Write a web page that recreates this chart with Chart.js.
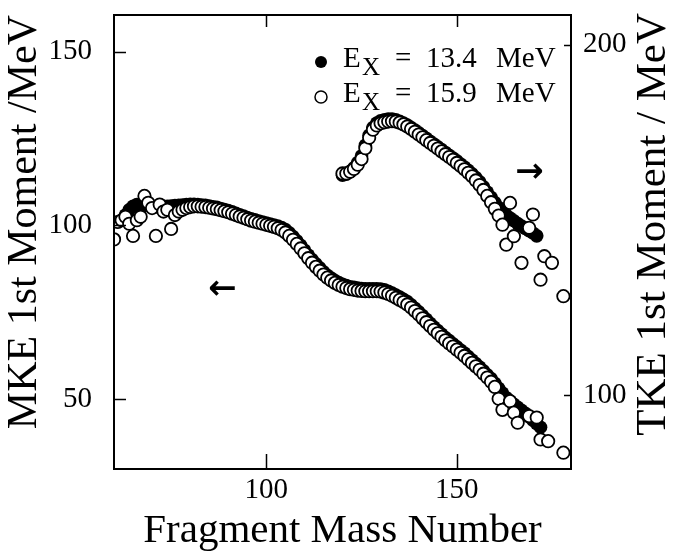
<!DOCTYPE html>
<html>
<head>
<meta charset="utf-8">
<script src="https://cdn.jsdelivr.net/npm/chart.js@4.4.1/dist/chart.umd.min.js"></script>
<style>
  html, body { margin: 0; padding: 0; background: #fff; }
  #wrap { width: 675px; height: 552px; }
</style>
</head>
<body>
<div id="wrap"><canvas id="chart"></canvas></div>
<script>
// Datos (número de masa del fragmento -> energía)
const massMke159 = [60, 61, 62, 63, 64, 65, 66, 67, 68, 69, 70, 71, 72, 73, 74, 75, 76, 77, 78, 79,
  80, 81, 82, 83, 84, 85, 86, 87, 88, 89, 90, 91, 92, 93, 94, 95, 96, 97, 98, 99,
  100, 101, 102, 103, 104, 105, 106, 107, 108, 109, 110, 111, 112, 113, 114, 115, 116, 117, 118, 119,
  120, 121, 122, 123, 124, 125, 126, 127, 128, 129, 130, 131, 132, 133, 134, 135, 136, 137, 138, 139,
  140, 141, 142, 143, 144, 145, 146, 147, 148, 149, 150, 151, 152, 153, 154, 155, 156, 157, 158, 159,
  160, 161, 162, 164, 165, 166, 169, 171, 172, 174, 178];
const mke159 = [96, 101, 101.5, 102.5, 100.5, 97, 101.5, 102.5, 108.5, 106.5, 105, 97, 106, 104, 104.5, 99, 103, 104, 104.5, 105,
  105.3, 105.5, 105.5, 105.4, 105.3, 105.1, 104.9, 104.7, 104.4, 104.1, 103.8, 103.4, 103, 102.6, 102.2, 101.8, 101.4, 101.1, 100.8, 100.5,
  100.2, 99.9, 99.6, 99.2, 98.7, 98, 97, 95.9, 94.7, 93.4, 92, 90.6, 89.3, 88.1, 87, 85.9, 85, 84.2, 83.5, 82.9,
  82.4, 82, 81.7, 81.5, 81.3, 81.2, 81.1, 81.1, 81.1, 81.1, 81, 80.7, 80.3, 79.8, 79.2, 78.6, 78, 77.3, 76.4, 75.4,
  74.4, 73.3, 72.2, 71.1, 70, 69, 68, 67, 66.1, 65.2, 64.3, 63.4, 62.5, 61.5, 60.5, 59.5, 58.5, 57.4, 56.3, 55.1,
  53.6, 50.2, 47, 49.5, 46.2, 43.3, 45.2, 44.8, 38.5, 38, 34.7];

const massMke134 = [63, 64, 65, 66, 67, 68, 69, 70, 71, 72, 73, 74, 75, 76, 77, 78, 79,
  80, 81, 82, 83, 84, 85, 86, 87, 88, 89, 90, 91, 92, 93, 94, 95, 96, 97, 98, 99,
  100, 101, 102, 103, 104, 105, 106, 107, 108, 109, 110, 111, 112, 113, 114, 115, 116, 117, 118, 119,
  120, 121, 122, 123, 124, 125, 126, 127, 128, 129, 130, 131, 132, 133, 134, 135, 136, 137, 138, 139,
  140, 141, 142, 143, 144, 145, 146, 147, 148, 149, 150, 151, 152, 153, 154, 155, 156, 157, 158, 159,
  160, 161, 162, 163, 164, 165, 166, 167, 168, 169, 170, 171, 172];
const mke134 = [103, 104.5, 105.5, 106, 105, 106.5, 106, 105.5, 105.3, 105.5, 105.5, 105.5, 105.6, 105.7, 105.8, 105.9, 106,
  106.1, 106.1, 106, 105.9, 105.8, 105.6, 105.4, 105.2, 104.9, 104.6, 104.3, 103.9, 103.5, 103.1, 102.7, 102.3, 101.9, 101.6, 101.3, 101,
  100.7, 100.4, 100.1, 99.8, 99.4, 98.8, 97.9, 96.8, 95.6, 94.3, 92.9, 91.5, 90.2, 89, 87.8, 86.7, 85.7, 84.9, 84.2, 83.6,
  83.1, 82.7, 82.4, 82.2, 82, 81.9, 81.8, 81.8, 81.8, 81.8, 81.7, 81.5, 81.1, 80.6, 80, 79.4, 78.8, 78.1, 77.2, 76.2,
  75.2, 74.1, 73, 71.9, 70.8, 69.8, 68.8, 67.8, 66.9, 66, 65.1, 64.2, 63.3, 62.3, 61.3, 60.3, 59.3, 58.2, 57.1, 56,
  54.6, 53.2, 51.8, 50.5, 49.5, 48.6, 47.7, 46.9, 46, 45, 44, 43, 42];

const massTke159 = [120, 121, 122, 123, 124, 125, 126, 127, 128, 129, 130, 131, 132, 133, 134, 135, 136, 137, 138, 139,
  140, 141, 142, 143, 144, 145, 146, 147, 148, 149, 150, 151, 152, 153, 154, 155, 156, 157, 158, 159,
  160, 161, 162, 163, 164, 165, 167, 169, 170, 172, 173, 175, 178];
const tke159 = [163.3, 163.3, 163.8, 164.6, 165.8, 167.4, 170.5, 173.5, 175.8, 177, 177.6, 177.9, 178.1, 178.2, 178.1, 177.8, 177.3, 176.7, 176, 175.2,
  174.4, 173.6, 172.8, 172, 171.2, 170.4, 169.6, 168.8, 168, 167.2, 166.3, 165.4, 164.5, 163.5, 162.5, 161.3, 160, 158.6, 156.9, 155.1,
  153.2, 151.3, 148.7, 143, 154.9, 145.4, 137.8, 147.8, 151.6, 133, 139.7, 137.8, 128.3];

const massTke134 = [120, 121, 122, 123, 124, 125, 126, 127, 128, 129, 130, 131, 132, 133, 134, 135, 136, 137, 138, 139,
  140, 141, 142, 143, 144, 145, 146, 147, 148, 149, 150, 151, 152, 153, 154, 155, 156, 157, 158, 159,
  160, 161, 162, 163, 164, 165, 166, 167, 168, 169, 170, 171];
const tke134 = [162.8, 163.1, 163.8, 164.9, 166.4, 168.3, 171.3, 174.2, 176.4, 177.7, 178.3, 178.6, 178.8, 178.8, 178.6, 178.2, 177.7, 177.1, 176.4, 175.7,
  174.9, 174.1, 173.3, 172.5, 171.7, 170.9, 170.1, 169.3, 168.5, 167.7, 166.9, 166, 165.1, 164.2, 163.2, 162.1, 160.9, 159.5, 158, 156.5,
  155, 153.6, 152.4, 151.4, 150.6, 149.8, 149, 148.3, 147.6, 147, 146.3, 145.5];

// Etiquetas de los ejes
const massTickLabels = [100, 150];
const mkeTickLabels = [50, 100, 150];
const tkeTickLabels = [100, 200];
const legendLabels = ["13.4 MeV", "15.9 MeV"];

const serif = "'Liberation Serif', 'Times New Roman', serif";

function toPoints(mass, values) {
  return mass.map((m, i) => ({ x: m, y: values[i] }));
}

// Quita el relleno automático que Chart.js añade por las etiquetas
function noPad(s) {
  s.paddingTop = 0;
  s.paddingBottom = 0;
  s.paddingLeft = 0;
  s.paddingRight = 0;
}

// Marcas hacia dentro, marco, leyenda y flechas
const framePlugin = {
  id: "frame",
  afterDraw(chart) {
    const { ctx, chartArea: a, scales } = chart;
    const sx = scales.x, sl = scales.y, sr = scales.y2;
    ctx.save();
    ctx.strokeStyle = "#000";
    ctx.lineWidth = 2;
    ctx.strokeRect(a.left, a.top, a.right - a.left, a.bottom - a.top);

    ctx.lineWidth = 1.5;
    ctx.beginPath();
    sx.ticks.forEach((t) => {
      if (t.value % 10 !== 0 || t.value <= sx.min || t.value >= sx.max) return;
      const px = Math.round(sx.getPixelForValue(t.value)) + 0.5;
      const len = massTickLabels.includes(t.value) ? 15 : 11;
      ctx.moveTo(px, a.bottom);
      ctx.lineTo(px, a.bottom - len);
      ctx.moveTo(px, a.top);
      ctx.lineTo(px, a.top + 12);
    });
    sl.ticks.forEach((t) => {
      if (t.value % 10 !== 0 || t.value <= sl.min || t.value >= sl.max) return;
      const py = Math.round(sl.getPixelForValue(t.value)) + 0.5;
      ctx.moveTo(a.left, py);
      ctx.lineTo(a.left + 12, py);
    });
    sr.ticks.forEach((t) => {
      if (t.value % 10 !== 0 || t.value <= sr.min || t.value >= sr.max) return;
      const py = Math.round(sr.getPixelForValue(t.value)) + 0.5;
      ctx.moveTo(a.right, py);
      ctx.lineTo(a.right - 7, py);
    });
    ctx.stroke();

    // Título del eje derecho (se lee de abajo hacia arriba)
    ctx.fillStyle = "#000";
    ctx.save();
    ctx.translate(654, a.top - 2);
    ctx.rotate(-Math.PI / 2);
    ctx.font = "43px " + serif;
    ctx.textAlign = "right";
    ctx.textBaseline = "middle";
    ctx.fillText("TKE 1st Moment / MeV", 0, 0);
    ctx.restore();

    // Leyenda con subíndice X
    const rows = [a.top + 52, a.top + 87];
    rows.forEach((base, i) => {
      const mx = a.right - 250;
      ctx.beginPath();
      ctx.arc(mx, base - 5, 6, 0, Math.PI * 2);
      if (i === 0) {
        ctx.fill();
      } else {
        ctx.fillStyle = "#fff";
        ctx.fill();
        ctx.lineWidth = 1.5;
        ctx.stroke();
        ctx.fillStyle = "#000";
      }
      ctx.textAlign = "left";
      ctx.textBaseline = "alphabetic";
      ctx.font = "29px " + serif;
      ctx.fillText("E", a.right - 228, base);
      ctx.font = "25px " + serif;
      ctx.fillText("X", a.right - 209, base + 8);
      ctx.font = "29px " + serif;
      ctx.fillText("=", a.right - 176, base);
      const parts = legendLabels[i].split(" ");
      ctx.fillText(parts[0], a.right - 145, base);
      ctx.fillText(parts[1], a.right - 75, base);
    });

    // Flechas que indican el eje de cada curva
    ctx.font = "bold 34px 'DejaVu Sans'";
    ctx.textAlign = "center";
    ctx.textBaseline = "middle";
    ctx.fillText("\u2190", sx.getPixelForValue(88.4), sl.getPixelForValue(81.3));
    ctx.fillText("\u2192", sx.getPixelForValue(169.1), sr.getPixelForValue(163.5));
    ctx.restore();
  },
};

const openStyle = {
  pointRadius: 6.2,
  pointHoverRadius: 6.2,
  pointBorderWidth: 1.8,
  pointBackgroundColor: "#fff",
  pointBorderColor: "#000",
  showLine: false,
};
const filledStyle = {
  pointRadius: 6.8,
  pointHoverRadius: 6.8,
  pointBorderWidth: 0,
  pointBackgroundColor: "#000",
  pointBorderColor: "#000",
  showLine: false,
};

new Chart(document.getElementById("chart"), {
  type: "scatter",
  data: {
    datasets: [
      { label: "Ex = 15.9 MeV MKE", data: toPoints(massMke159, mke159), yAxisID: "y", ...openStyle },
      { label: "Ex = 15.9 MeV TKE", data: toPoints(massTke159, tke159), yAxisID: "y2", ...openStyle },
      { label: "Ex = 13.4 MeV MKE", data: toPoints(massMke134, mke134), yAxisID: "y", ...filledStyle },
      { label: "Ex = 13.4 MeV TKE", data: toPoints(massTke134, tke134), yAxisID: "y2", ...filledStyle },
    ],
  },
  options: {
    responsive: true,
    maintainAspectRatio: false,
    animation: false,
    layout: { padding: { top: 15, left: 0, right: 0, bottom: 0 }, autoPadding: false },
    plugins: {
      legend: { display: false },
      tooltip: { enabled: false },
    },
    scales: {
      x: {
        type: "linear",
        min: 60,
        max: 180,
        grid: { display: false },
        border: { display: false },
        ticks: {
          stepSize: 10,
          includeBounds: false,
          autoSkip: false,
          maxRotation: 0,
          padding: -4,
          color: "#000",
          font: { family: serif, size: 29 },
          callback: (v) => (massTickLabels.includes(v) ? String(v) : null),
        },
        title: {
          display: true,
          text: "Fragment Mass Number",
          color: "#000",
          font: { family: serif, size: 41, lineHeight: 1 },
          padding: { top: 0, bottom: 0 },
        },
        afterFit: (s) => { s.height = 83; noPad(s); },
      },
      y: {
        type: "linear",
        position: "left",
        min: 30,
        max: 160.5,
        grid: { display: false },
        border: { display: false },
        ticks: {
          stepSize: 10,
          includeBounds: false,
          autoSkip: false,
          padding: 14,
          color: "#000",
          font: { family: serif, size: 29 },
          callback: (v) => (mkeTickLabels.includes(v) ? String(v) : null),
        },
        title: {
          display: true,
          text: "MKE 1st Moment /MeV",
          align: "end",
          color: "#000",
          font: { family: serif, size: 42, lineHeight: 1 },
          padding: { top: 4, bottom: 0 },
        },
        afterFit: (s) => { s.width = 114; noPad(s); },
      },
      y2: {
        type: "linear",
        position: "right",
        min: 79,
        max: 208.5,
        grid: { display: false },
        border: { display: false },
        ticks: {
          stepSize: 10,
          includeBounds: false,
          autoSkip: false,
          padding: 4,
          color: "#000",
          font: { family: serif, size: 29 },
          callback: (v) => (tkeTickLabels.includes(v) ? String(v) : null),
        },
        afterFit: (s) => { s.width = 104; noPad(s); },
      },
    },
  },
  plugins: [framePlugin],
});
</script>
</body>
</html>
